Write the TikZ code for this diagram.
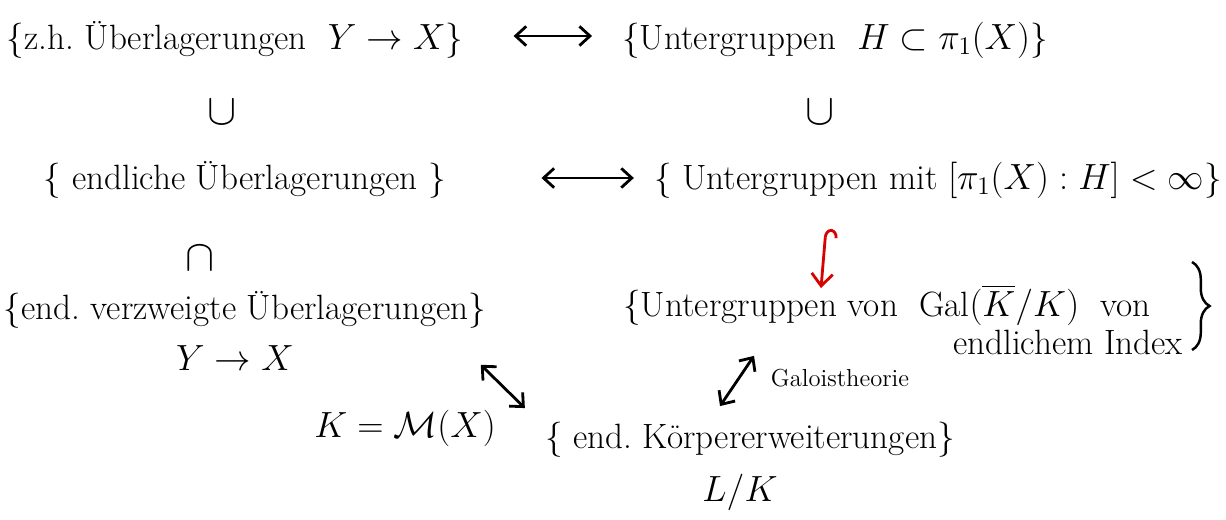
\documentclass[tikz,border=0pt]{standalone}
\usepackage{amsmath,amssymb}
\usetikzlibrary{arrows.meta,decorations.pathreplacing,calc}
\begin{document}
\begin{tikzpicture}[x=0.02cm,y=-0.02cm,
  lbl/.style={inner sep=0pt, font=\fontsize{20}{24}\selectfont},
  biglbl/.style={inner sep=0pt, font=\fontsize{24}{28}\selectfont},
  smalllbl/.style={inner sep=0pt, font=\fontsize{14}{17}\selectfont},
  dbl/.style={{Straight Barb[length=6pt,width=11pt]}-{Straight Barb[length=6pt,width=11pt]}, line width=1.6pt},
  hookarrow/.style={red!85!black, line width=1.6pt, {Hooks[right,length=5pt,width=14pt]}-{Straight Barb[length=7pt,width=12pt]}},
]
\useasboundingbox (0,0) rectangle (1226,520);
% row 1
\node[lbl] (a1) at (235,40) {\{z.h.\ Überlagerungen \ $Y\to X$\}};
\node[lbl] (b1) at (835,40) {\{Untergruppen \ $H\subset\pi_1(X)$\}};
% row 2
\node[biglbl] (u1) at (222,112) {$\cup$};
\node[biglbl] (u2) at (820,112) {$\cup$};
\node[lbl] (a2) at (245,180) {\{ endliche Überlagerungen \}};
\node[lbl] (b2) at (938,180) {\{ Untergruppen mit $[\pi_1(X):H]<\infty$\}};
% row 3
\node[biglbl] (n1) at (200,258) {$\cap$};
\node[lbl] (a3) at (245,310) {\{end.\ verzweigte Überlagerungen\}};
\node[lbl] (a3b) at (235,358) {$Y\to X$};
\node[lbl] (g1) at (887,305) {\{Untergruppen von \ Gal$(\overline{K}/K)$ \ von};
\node[lbl] (g2) at (1068,342) {endlichem Index};
\draw[line width=1.4pt, decorate, decoration={brace, amplitude=10pt}] (1192,262) -- (1192,350);
% row 4
\node[lbl] (km) at (405,428) {$K=\mathcal{M}(X)$};
\node[lbl] (k1) at (750,440) {\{ end.\ Körpererweiterungen\}};
\node[lbl] (lk) at (740,492) {$L/K$};
\node[smalllbl] (gt) at (840,378) {Galoistheorie};
% connectors
\coordinate (rx) at (826,0);
\draw[dbl] ($(a1.east)+(50,-4)$) -- ($(b1.west)+(-30,-4)$);
\draw[dbl] ($(a2.east)+(95,-2)$) -- ($(b2.west)+(-20,-2)$);
\draw[hookarrow] ($(b2.south -| rx)+(0,30)$) -- ($(g1.north -| rx)+(-5,4)$);
\draw[dbl] ($(a3.south east)+(-6,36)$) -- ($(k1.north west)+(-20,-14)$);
\draw[dbl] ($(g1.south)+(-133,30)$) -- ($(k1.north)+(-30,-16)$);
\end{tikzpicture}
\end{document}
